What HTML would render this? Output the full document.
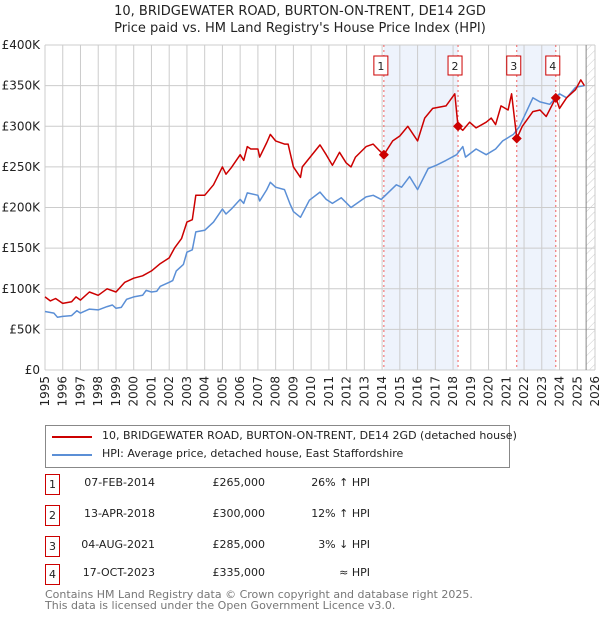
<!DOCTYPE html>
<html><head><meta charset="utf-8"><style>
body{margin:0;background:#fff;font-family:"Liberation Sans","DejaVu Sans",sans-serif;}
#wrap{position:relative;width:600px;height:620px;overflow:hidden}
svg text{font-family:"DejaVu Sans","Liberation Sans",sans-serif;}
.tb div{white-space:nowrap}
</style></head><body><div id="wrap">
<svg id="c" width="600" height="620"></svg>

<div style="position:absolute;left:45px;top:425px;width:465px;height:43px;border:1px solid #888;box-sizing:border-box;font-family:'DejaVu Sans','Liberation Sans',sans-serif;font-size:11px;color:#222">
 <div style="position:absolute;left:6px;top:10px;width:40px;height:2px;background:#cc0000"></div>
 <div style="position:absolute;left:56px;top:3px;white-space:nowrap">10, BRIDGEWATER ROAD, BURTON-ON-TRENT, DE14 2GD (detached house)</div>
 <div style="position:absolute;left:6px;top:28px;width:40px;height:2px;background:#5b8fd6"></div>
 <div style="position:absolute;left:56px;top:21px;white-space:nowrap">HPI: Average price, detached house, East Staffordshire</div>
</div>

<div class="tb" style="position:absolute;left:0;top:0;font-family:'DejaVu Sans','Liberation Sans',sans-serif;font-size:11px;color:#222">
 <div><div style="position:absolute;left:45px;top:474px;width:13px;height:19px;border:1px solid #cc0000;text-align:center;line-height:19px">1</div><div style="position:absolute;left:70px;width:85px;text-align:right;top:476px">07-FEB-2014</div><div style="position:absolute;left:195px;width:70px;text-align:right;top:476px">£265,000</div><div style="position:absolute;left:290px;width:80px;text-align:right;top:476px">26% ↑ HPI</div></div>
 <div><div style="position:absolute;left:45px;top:505px;width:13px;height:19px;border:1px solid #cc0000;text-align:center;line-height:19px">2</div><div style="position:absolute;left:70px;width:85px;text-align:right;top:507px">13-APR-2018</div><div style="position:absolute;left:195px;width:70px;text-align:right;top:507px">£300,000</div><div style="position:absolute;left:290px;width:80px;text-align:right;top:507px">12% ↑ HPI</div></div>
 <div><div style="position:absolute;left:45px;top:536px;width:13px;height:19px;border:1px solid #cc0000;text-align:center;line-height:19px">3</div><div style="position:absolute;left:70px;width:85px;text-align:right;top:538px">04-AUG-2021</div><div style="position:absolute;left:195px;width:70px;text-align:right;top:538px">£285,000</div><div style="position:absolute;left:290px;width:80px;text-align:right;top:538px">3% ↓ HPI</div></div>
 <div><div style="position:absolute;left:45px;top:564px;width:13px;height:19px;border:1px solid #cc0000;text-align:center;line-height:19px">4</div><div style="position:absolute;left:70px;width:85px;text-align:right;top:566px">17-OCT-2023</div><div style="position:absolute;left:195px;width:70px;text-align:right;top:566px">£335,000</div><div style="position:absolute;left:290px;width:80px;text-align:right;top:566px">≈ HPI</div></div>
</div>
<div style="position:absolute;left:45px;top:590px;font-family:'DejaVu Sans','Liberation Sans',sans-serif;font-size:11px;color:#777;line-height:10.5px;white-space:nowrap">Contains HM Land Registry data © Crown copyright and database right 2025.<br>This data is licensed under the Open Government Licence v3.0.</div>
</div>
<script>
const hpiYears=[1995,1995.5,1995.7,1996,1996.5,1996.8,1997,1997.5,1998,1998.5,1998.8,1999,1999.3,1999.6,2000,2000.5,2000.7,2001,2001.3,2001.5,2002,2002.2,2002.4,2002.8,2003,2003.3,2003.5,2004,2004.5,2005,2005.2,2005.5,2006,2006.2,2006.4,2007,2007.1,2007.5,2007.7,2008,2008.5,2008.8,2009,2009.4,2009.9,2010.5,2010.85,2011.2,2011.7,2012.25,2013.1,2013.5,2013.95,2014.8,2015.1,2015.55,2016.0,2016.6,2017.05,2017.6,2018.2,2018.55,2018.7,2019.3,2019.87,2020.4,2020.8,2021.4,2021.75,2022.5,2022.9,2023.45,2024.0,2024.4,2024.9,2025.4];
const hpiValues=[72,70,65,66,67,73,70,75,74,78,80,76,77,87,90,92,98,96,97,103,108,110,122,130,145,148,170,172,182,198,192,198,210,205,218,215,208,222,231,225,222,205,195,188,209,219,210,205,212,200,213,215,210,228,225,238,222,248,252,258,265,275,262,272,265,272,282,290,300,335,330,327,340,335,348,350];
const redYears=[1995,1995.3,1995.6,1996,1996.5,1996.75,1997,1997.5,1998,1998.5,1999,1999.5,2000,2000.5,2001,2001.5,2002,2002.3,2002.7,2003,2003.3,2003.5,2004,2004.5,2005,2005.2,2005.5,2006,2006.2,2006.4,2006.6,2007,2007.1,2007.5,2007.7,2008,2008.5,2008.7,2009,2009.4,2009.5,2010.5,2010.85,2011.2,2011.6,2011.97,2012.25,2012.5,2013.1,2013.5,2013.85,2014.1,2014.6,2015.0,2015.45,2016.0,2016.4,2016.85,2017.6,2018.1,2018.28,2018.55,2018.93,2019.3,2019.87,2020.15,2020.4,2020.7,2021.1,2021.3,2021.59,2021.9,2022.5,2022.9,2023.25,2023.79,2024.0,2024.4,2024.9,2025.2,2025.4];
const redValues=[90,85,88,82,84,90,86,96,92,100,96,108,113,116,122,131,138,150,162,182,185,215,215,228,250,241,249,265,258,275,272,272,262,280,290,282,278,278,250,237,250,277,265,252,268,255,250,262,275,278,270,265,282,288,300,282,310,322,325,340,300,295,305,298,305,310,302,325,320,340,285,300,318,320,312,335,322,335,345,357,350];
const saleYears=[2014.10,2018.28,2021.59,2023.79];
const saleValues=[265,300,285,335];
const saleLabels=["1","2","3","4"];
const yTicks=[0,50,100,150,200,250,300,350,400];
const yTickLabels=["£0","£50K","£100K","£150K","£200K","£250K","£300K","£350K","£400K"];
const xTicks=[1995,1996,1997,1998,1999,2000,2001,2002,2003,2004,2005,2006,2007,2008,2009,2010,2011,2012,2013,2014,2015,2016,2017,2018,2019,2020,2021,2022,2023,2024,2025,2026];

const NS="http://www.w3.org/2000/svg";
const svg=document.getElementById('c');
const X0=45,X1=595,Y0=370,Y1=45;
const xs=y=>X0+(y-1995)/(2026-1995)*(X1-X0);
const ys=v=>Y0-v/400*(Y0-Y1);
function mk(t,a,p){const e=document.createElementNS(NS,t);for(const k in a)e.setAttribute(k,a[k]);(p||svg).appendChild(e);return e;}

const defs=mk('defs',{});
const pat=mk('pattern',{id:'hatch',width:6,height:6,patternUnits:'userSpaceOnUse',patternTransform:'rotate(45)'},defs);
mk('line',{x1:0,y1:0,x2:0,y2:6,stroke:'#ccc','stroke-width':1},pat);

let t;
t=mk('text',{x:300,y:15,'text-anchor':'middle','font-size':13,fill:'#222'});t.textContent="10, BRIDGEWATER ROAD, BURTON-ON-TRENT, DE14 2GD";


t=mk('text',{x:300,y:32,'text-anchor':'middle','font-size':13,fill:'#222'});t.textContent="Price paid vs. HM Land Registry's House Price Index (HPI)";



for(let i=0;i<saleYears.length;i+=2){
  const r=mk('rect',{x:xs(saleYears[i]),y:Y1,width:xs(saleYears[i+1])-xs(saleYears[i]),height:Y0-Y1,fill:'#eef3fc'});
  
  
}
const hx=xs(2025.5);
let hr=mk('rect',{x:hx,y:Y1,width:X1-hx,height:Y0-Y1,fill:'url(#hatch)'});



const grid=mk('g',{});


yTicks.forEach((v,i)=>{
  mk('line',{x1:X0,x2:X1,y1:ys(v),y2:ys(v),stroke:'#ccc','stroke-width':1},grid);
  const l=mk('text',{x:40,y:ys(v)+4,'text-anchor':'end','font-size':12,fill:'#222'});
  l.textContent=yTickLabels[i];
  
  
});
xTicks.forEach(yr=>{
  mk('line',{x1:xs(yr),x2:xs(yr),y1:Y1,y2:Y0,stroke:'#ccc','stroke-width':1},grid);
  const l=mk('text',{x:0,y:0,'text-anchor':'end','font-size':12,fill:'#222',transform:`translate(${xs(yr)+4},376) rotate(-90)`});
  l.textContent=yr;
  
  
});
mk('line',{x1:hx,x2:hx,y1:Y1,y2:Y0,stroke:'#888','stroke-width':1});

saleYears.forEach(y=>{mk('line',{x1:xs(y),x2:xs(y),y1:Y1,y2:Y0,stroke:'#f06060','stroke-width':1,'stroke-dasharray':'2,3'});});

function path(xsArr,vs,color,name){
  const d=xsArr.map((y,i)=>(i?'L':'M')+xs(y).toFixed(1)+','+ys(vs[i]).toFixed(1)).join('');
  const p=mk('path',{d:d,fill:'none',stroke:color,'stroke-width':1.5,'stroke-linejoin':'round'});
  
  
}
path(hpiYears,hpiValues,'#5b8fd6','hpi-line');
path(redYears,redValues,'#cc0000','price-paid-line');

saleYears.forEach((y,i)=>{
  const cx=xs(y),cy=ys(saleValues[i]);
  const m=mk('path',{d:`M${cx},${cy-5}L${cx+5},${cy}L${cx},${cy+5}L${cx-5},${cy}Z`,fill:'#cc0000'});
  
  
  const g=mk('g',{});
  
  
  mk('rect',{x:cx-10,y:56,width:14,height:19,fill:'#fff',stroke:'#cc0000','stroke-width':1},g);
  const tt=mk('text',{x:cx-3,y:70,'text-anchor':'middle','font-size':11,fill:'#222'},g);tt.textContent=saleLabels[i];
});
</script>
</body></html>
